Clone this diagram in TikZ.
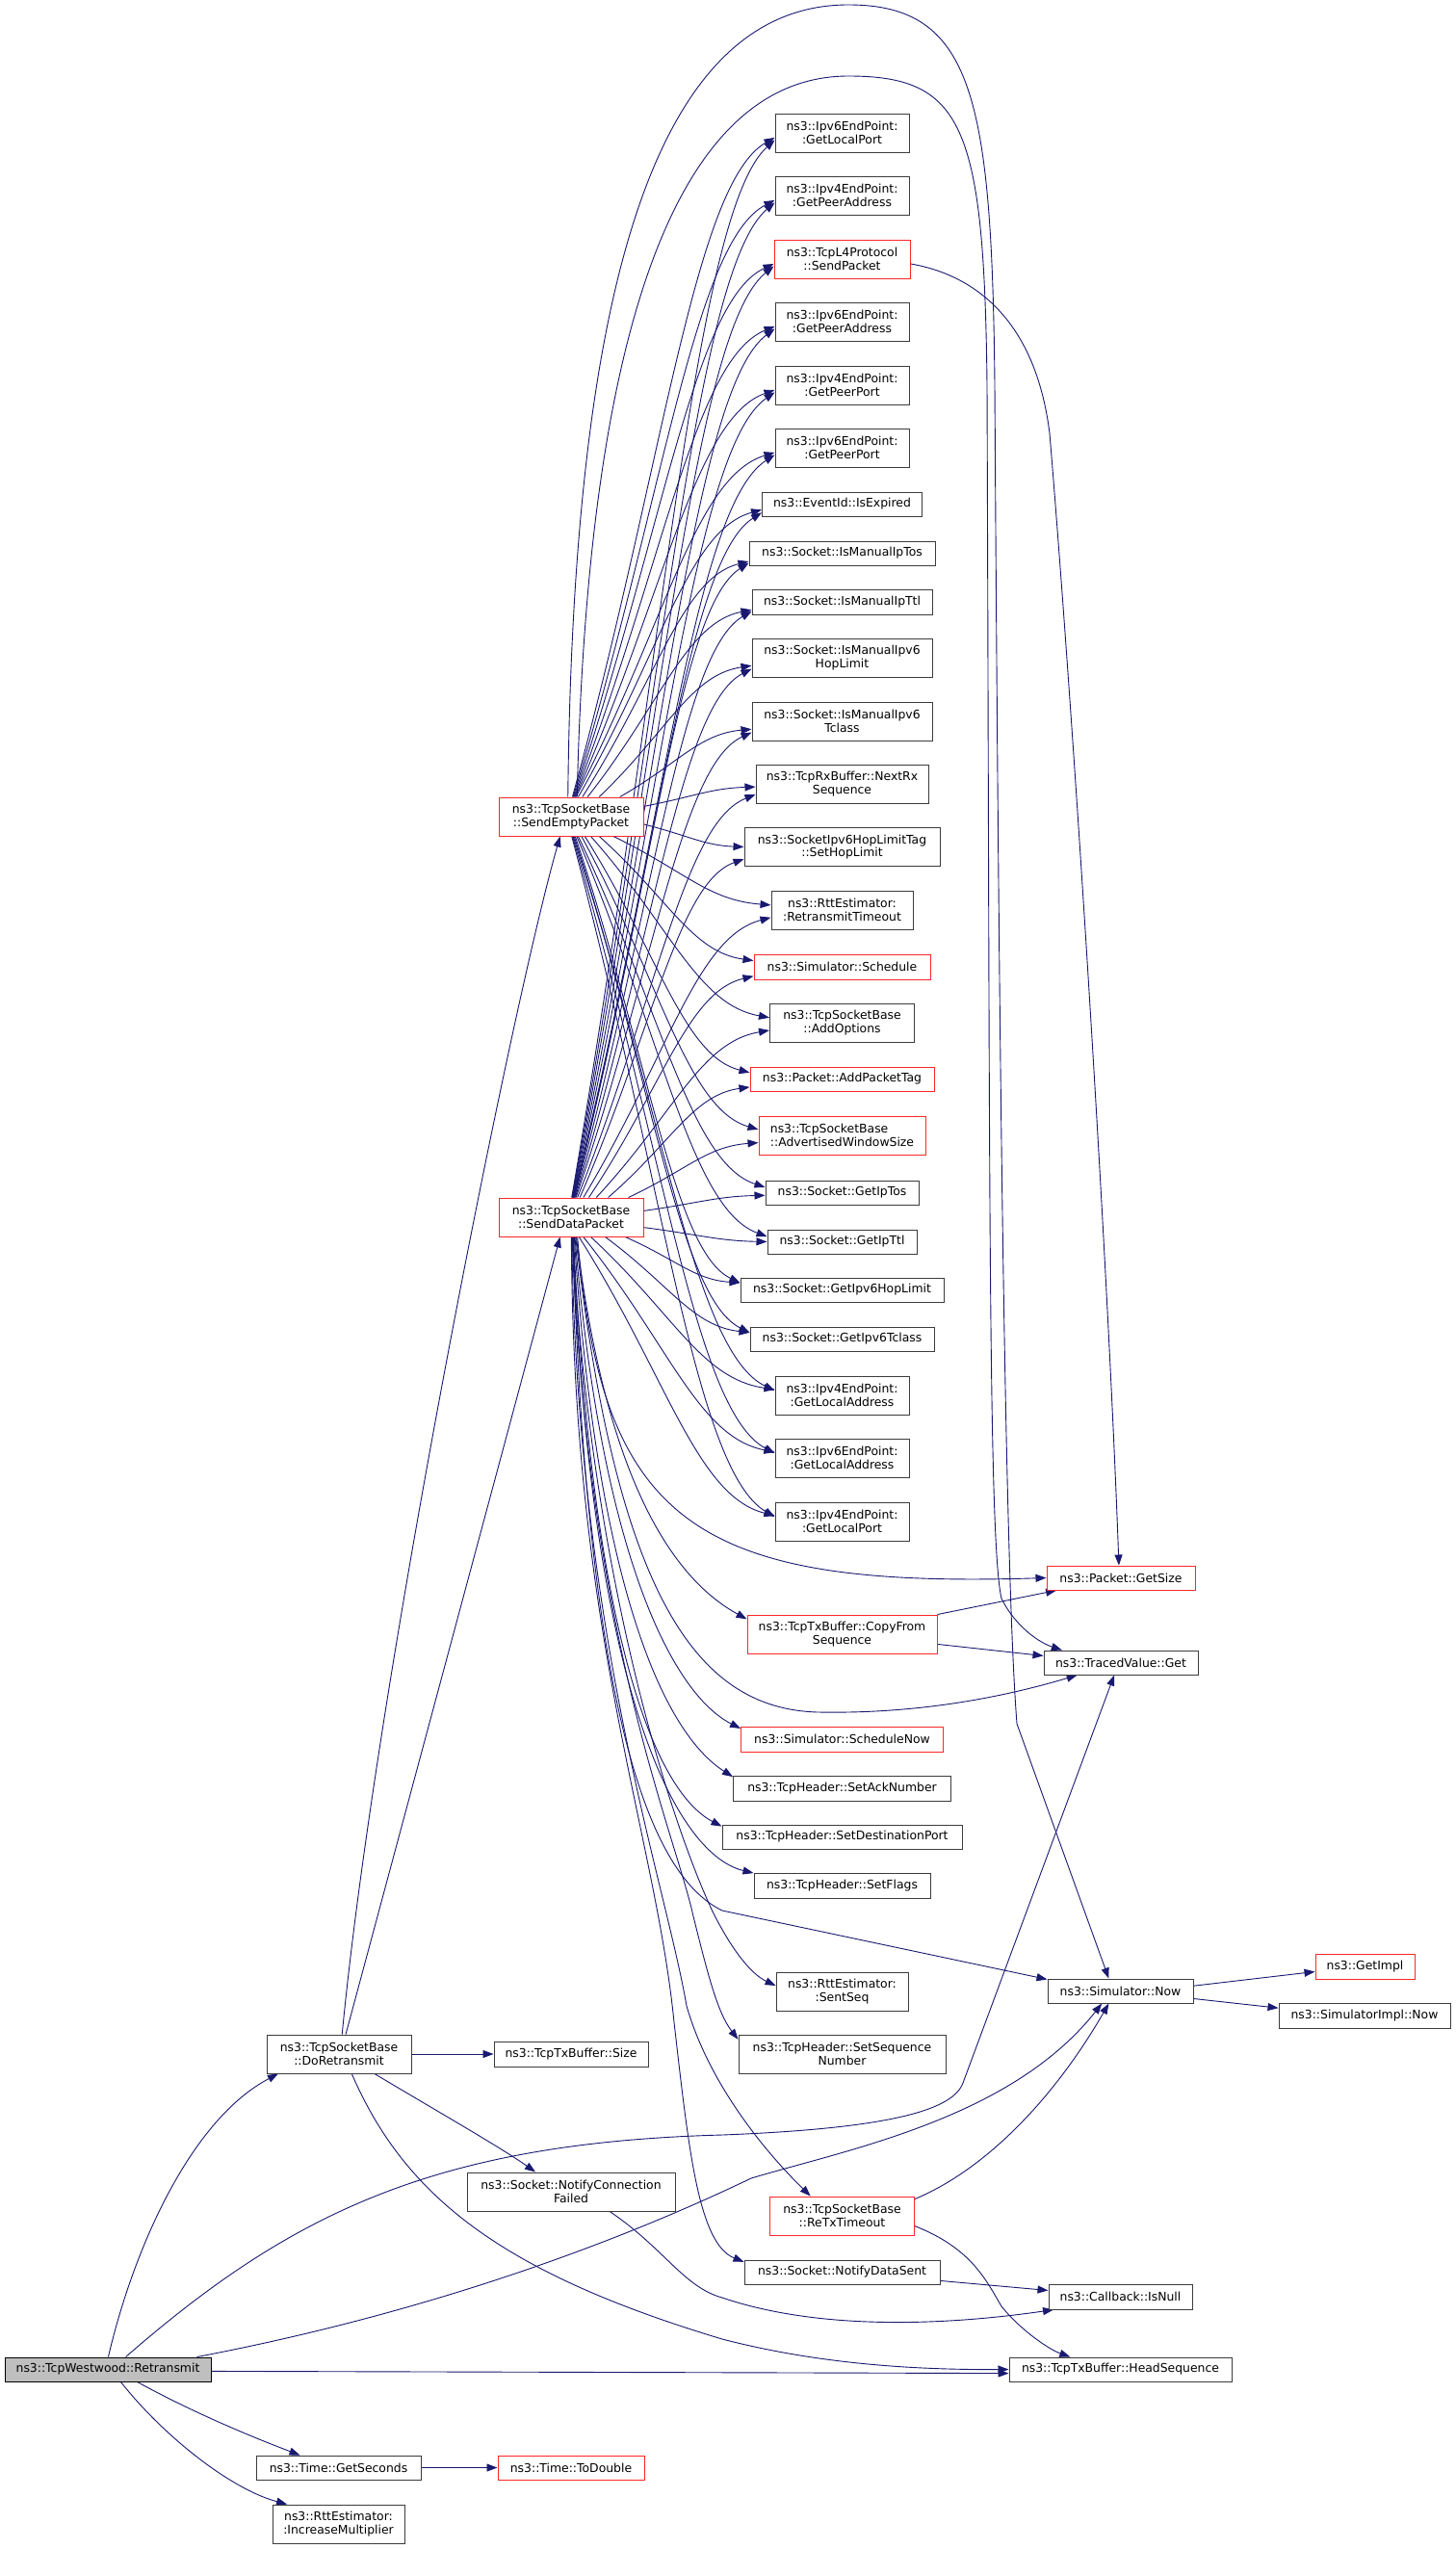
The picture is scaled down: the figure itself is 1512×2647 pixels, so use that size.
\documentclass[tikz,border=0pt]{standalone}
\usepackage{fontspec}
\setmainfont{DejaVu Sans}
\usetikzlibrary{arrows.meta,calc}
\definecolor{eblue}{RGB}{25,25,112}
\definecolor{bgray}{RGB}{60,60,60}
\definecolor{bred}{RGB}{255,40,40}
\definecolor{fgray}{RGB}{191,191,191}
\pgfdeclarelayer{bg}
\pgfsetlayers{bg,main}
\newcommand\fe[2]{\draw[cedge] let \p1=(#1), \p2=(#2) in (\p1) .. controls ({\x1+0.45*(\x2-\x1)},{\y1+0.5*(\y2-\y1)}) and ({\x2-0.4*(\x2-\x1)},{\y2-0.07*(\y2-\y1)}) .. (\p2);}
\begin{document}
\begin{tikzpicture}[x=1pt,y=-1pt,
 gbox/.style={draw=bgray, line width=1pt, fill=white, inner sep=0pt, align=center, font=\fontsize{12.4}{13.6}\selectfont},
 rbox/.style={gbox, draw=bred},
 cedge/.style={draw=eblue, line width=0.9pt, -{Triangle[length=11pt,width=8pt]}},
]
\useasboundingbox (0,0) rectangle (1512,2647);
% left
\node[gbox, fill=fgray, draw=black, minimum width=214pt, minimum height=25pt] (ret) at (112,2460.5) {ns3::TcpWestwood::Retransmit};
\node[gbox, minimum width=150pt, minimum height=40pt] (dor) at (352,2133) {ns3::TcpSocketBase\\::DoRetransmit};
\node[gbox, minimum width=171pt, minimum height=25pt] (sec) at (351.5,2562.5) {ns3::Time::GetSeconds};
\node[gbox, minimum width=137pt, minimum height=40pt] (inc) at (351.5,2621) {ns3::RttEstimator:\\:IncreaseMultiplier};
% column 2
\node[rbox, minimum width=150pt, minimum height=40pt] (sep) at (593,848) {ns3::TcpSocketBase\\::SendEmptyPacket};
\node[rbox, minimum width=150pt, minimum height=40pt] (sdp) at (593,1264) {ns3::TcpSocketBase\\::SendDataPacket};
\node[gbox, minimum width=160pt, minimum height=26pt] (txs) at (593,2133) {ns3::TcpTxBuffer::Size};
\node[gbox, minimum width=216pt, minimum height=40pt] (ncf) at (593,2276) {ns3::Socket::NotifyConnection\\Failed};
\node[rbox, minimum width=152pt, minimum height=25pt] (tod) at (593,2562.5) {ns3::Time::ToDouble};
% column 3
\node[gbox, minimum width=139pt, minimum height=40pt] (gl6p) at (874.5,138) {ns3::Ipv6EndPoint:\\:GetLocalPort};
\node[gbox, minimum width=139pt, minimum height=40pt] (gpa4) at (874.5,203) {ns3::Ipv4EndPoint:\\:GetPeerAddress};
\node[rbox, minimum width=141pt, minimum height=40pt] (spk) at (874.5,269) {ns3::TcpL4Protocol\\::SendPacket};
\node[gbox, minimum width=139pt, minimum height=40pt] (gpa6) at (874.5,334) {ns3::Ipv6EndPoint:\\:GetPeerAddress};
\node[gbox, minimum width=139pt, minimum height=40pt] (gpp4) at (874.5,400) {ns3::Ipv4EndPoint:\\:GetPeerPort};
\node[gbox, minimum width=139pt, minimum height=40pt] (gpp6) at (874.5,465) {ns3::Ipv6EndPoint:\\:GetPeerPort};
\node[gbox, minimum width=166pt, minimum height=25pt] (isexp) at (874.5,523.5) {ns3::EventId::IsExpired};
\node[gbox, minimum width=193pt, minimum height=25pt] (imtos) at (874.5,574.5) {ns3::Socket::IsManualIpTos};
\node[gbox, minimum width=187pt, minimum height=26pt] (imttl) at (874.5,625) {ns3::Socket::IsManualIpTtl};
\node[gbox, minimum width=187pt, minimum height=40pt] (imhl) at (874.5,683) {ns3::Socket::IsManualIpv6\\HopLimit};
\node[gbox, minimum width=187pt, minimum height=40pt] (imtc) at (874.5,749) {ns3::Socket::IsManualIpv6\\Tclass};
\node[gbox, minimum width=179pt, minimum height=40pt] (nrx) at (874.5,814) {ns3::TcpRxBuffer::NextRx\\Sequence};
\node[gbox, minimum width=203pt, minimum height=40pt] (shl) at (874.5,879.5) {ns3::SocketIpv6HopLimitTag\\::SetHopLimit};
\node[gbox, minimum width=147pt, minimum height=40pt] (rto) at (874.5,945) {ns3::RttEstimator:\\:RetransmitTimeout};
\node[rbox, minimum width=183pt, minimum height=26pt] (sch) at (874.5,1004) {ns3::Simulator::Schedule};
\node[gbox, minimum width=150pt, minimum height=40pt] (aopt) at (874.5,1062) {ns3::TcpSocketBase\\::AddOptions};
\node[rbox, minimum width=191pt, minimum height=25pt] (apt) at (874.5,1120.5) {ns3::Packet::AddPacketTag};
\node[rbox, minimum width=173pt, minimum height=40pt, align=left] (aws) at (874.5,1179) {ns3::TcpSocketBase\\::AdvertisedWindowSize};
\node[gbox, minimum width=159pt, minimum height=25pt] (gtos) at (874.5,1238.5) {ns3::Socket::GetIpTos};
\node[gbox, minimum width=155pt, minimum height=25pt] (gttl) at (874.5,1289.5) {ns3::Socket::GetIpTtl};
\node[gbox, minimum width=211pt, minimum height=25pt] (ghl) at (874.5,1339.5) {ns3::Socket::GetIpv6HopLimit};
\node[gbox, minimum width=191pt, minimum height=25pt] (gtc) at (874.5,1390.5) {ns3::Socket::GetIpv6Tclass};
\node[gbox, minimum width=139pt, minimum height=40pt] (gla4) at (874.5,1449) {ns3::Ipv4EndPoint:\\:GetLocalAddress};
\node[gbox, minimum width=139pt, minimum height=40pt] (gla6) at (874.5,1514) {ns3::Ipv6EndPoint:\\:GetLocalAddress};
\node[gbox, minimum width=139pt, minimum height=40pt] (glp4) at (874.5,1580) {ns3::Ipv4EndPoint:\\:GetLocalPort};
\node[rbox, minimum width=197pt, minimum height=40pt] (cfs) at (874.5,1697) {ns3::TcpTxBuffer::CopyFrom\\Sequence};
\node[rbox, minimum width=210pt, minimum height=26pt] (schn) at (874.5,1806) {ns3::Simulator::ScheduleNow};
\node[gbox, minimum width=226pt, minimum height=26pt] (sack) at (874.5,1857) {ns3::TcpHeader::SetAckNumber};
\node[gbox, minimum width=249pt, minimum height=25pt] (sdst) at (874.5,1907.5) {ns3::TcpHeader::SetDestinationPort};
\node[gbox, minimum width=183pt, minimum height=26pt] (sflg) at (874.5,1958) {ns3::TcpHeader::SetFlags};
\node[gbox, minimum width=137pt, minimum height=40pt] (sseq) at (874.5,2068) {ns3::RttEstimator:\\:SentSeq};
\node[gbox, minimum width=215pt, minimum height=40pt] (ssn) at (874.5,2133) {ns3::TcpHeader::SetSequence\\Number};
\node[rbox, minimum width=150pt, minimum height=40pt] (rtx) at (874.5,2301) {ns3::TcpSocketBase\\::ReTxTimeout};
\node[gbox, minimum width=203pt, minimum height=25pt] (nds) at (874.5,2359.5) {ns3::Socket::NotifyDataSent};
% column 4
\node[rbox, minimum width=154pt, minimum height=25pt] (gsz) at (1164,1638.5) {ns3::Packet::GetSize};
\node[gbox, minimum width=160pt, minimum height=25pt] (tvg) at (1164,1726.5) {ns3::TracedValue::Get};
\node[gbox, minimum width=151pt, minimum height=25pt] (now) at (1163.5,2067.5) {ns3::Simulator::Now};
\node[gbox, minimum width=149pt, minimum height=26pt] (isn) at (1163.5,2385) {ns3::Callback::IsNull};
\node[gbox, minimum width=231pt, minimum height=25pt] (hsq) at (1163.5,2460.5) {ns3::TcpTxBuffer::HeadSequence};
% column 5
\node[rbox, minimum width=103pt, minimum height=26pt] (gimp) at (1417.5,2042) {ns3::GetImpl};
\node[gbox, minimum width=178pt, minimum height=26pt] (sin) at (1417,2093) {ns3::SimulatorImpl::Now};

\begin{pgfonlayer}{bg}
\fill[white] (0,0) rectangle (1512,2647);
% Retransmit
\draw[cedge] (ret.88) .. controls (140,2330) and (200,2200) .. (dor.-162);
\draw[cedge] (ret.35) .. controls (300,2300) and (450,2225) .. (750,2217) .. controls (930,2210) and (990,2190) .. (1000,2163) -- (tvg.-118);
\draw[cedge] (ret.8) .. controls (480,2395) and (680,2310) .. (780,2262) .. controls (880,2232) and (1050,2200) .. (now.-146);
\draw[cedge] (ret.-1) -- (hsq.-178);
\draw[cedge] (ret.-23) .. controls (200,2505) and (260,2530) .. (sec.162);
\draw[cedge] (ret.-44) .. controls (170,2530) and (240,2585) .. (inc.159);
% DoRetransmit
\draw[cedge] (dor.81) .. controls (390,1750) and (530,1050) .. (sep.-119);
\draw[cedge] (dor.71) -- (sdp.-119);
\draw[cedge] (dor.east) -- (txs.west);
\draw[cedge] (dor.-29) .. controls (450,2190) and (520,2230) .. (ncf.151);
\draw[cedge] (dor.-57) .. controls (420,2280) and (520,2360) .. (750,2429) .. controls (850,2455) and (950,2461) .. (hsq.west);
\draw[cedge] (ncf.-27) .. controls (690,2335) and (710,2375) .. (750,2386) .. controls (850,2420) and (980,2415) .. (isn.-169);
\draw[cedge] (sec.east) -- (tod.west);
% SendEmptyPacket fan
\fe{sep.86}{gl6p.184}
\fe{sep.84}{gpa4.184}
\fe{sep.82}{spk.184}
\fe{sep.80}{gpa6.184}
\fe{sep.78}{gpp4.184}
\fe{sep.76}{gpp6.184}
\fe{sep.70}{isexp.184}
\fe{sep.60}{imtos.185}
\fe{sep.50}{imttl.185}
\fe{sep.35}{imhl.185}
\fe{sep.22}{imtc.185}
\fe{sep.8}{nrx.182}
\fe{sep.-6}{shl.180}
\fe{sep.-25}{rto.176}
\fe{sep.-35}{sch.176}
\fe{sep.-45}{aopt.176}
\fe{sep.-55}{apt.176}
\fe{sep.-62}{aws.176}
\fe{sep.-70}{gtos.176}
\fe{sep.-74}{gttl.176}
\fe{sep.-78}{ghl.176}
\fe{sep.-81}{gtc.176}
\fe{sep.-84}{gla4.176}
\fe{sep.-86}{gla6.176}
\fe{sep.-88}{glp4.176}
\draw[cedge] (sep.99) .. controls (595,300) and (680,5) .. (881,5) .. controls (1010,5) and (1030,100) .. (1033,400) .. controls (1038,1200) and (1045,1650) .. (1056,1790) -- (now.133);
\draw[cedge] (sep.73) .. controls (610,350) and (700,79) .. (881,79) .. controls (1000,79) and (1022,130) .. (1025,400) .. controls (1028,1200) and (1026,1600) .. (1040,1660) .. controls (1055,1690) and (1080,1706) .. (tvg.168);
% SendDataPacket fan
\fe{sdp.88}{gl6p.186}
\fe{sdp.87}{gpa4.186}
\fe{sdp.86}{spk.186}
\fe{sdp.85}{gpa6.186}
\fe{sdp.84}{gpp4.186}
\fe{sdp.83}{gpp6.186}
\fe{sdp.82}{isexp.186}
\fe{sdp.81}{imtos.186}
\fe{sdp.80}{imttl.186}
\fe{sdp.78}{imhl.187}
\fe{sdp.76}{imtc.187}
\fe{sdp.72}{nrx.187}
\fe{sdp.66}{shl.187}
\fe{sdp.58}{rto.186}
\fe{sdp.48}{sch.186}
\fe{sdp.38}{aopt.186}
\fe{sdp.28}{apt.185}
\fe{sdp.19}{aws.185}
\fe{sdp.5}{gtos.182}
\fe{sdp.-8}{gttl.180}
\fe{sdp.-20}{ghl.176}
\fe{sdp.-30}{gtc.176}
\fe{sdp.-45}{gla4.175}
\fe{sdp.-58}{gla6.175}
\fe{sdp.-68}{glp4.175}
\draw[cedge] (sdp.-72) .. controls (625,1580) and (720,1650) .. (gsz.west);
\draw[cedge] (sdp.-75) .. controls (630,1540) and (700,1640) .. (cfs.171);
\draw[cedge] (sdp.-77) .. controls (640,1650) and (720,1775) .. (850,1778) .. controls (960,1780) and (1050,1760) .. (tvg.-164);
\draw[cedge] (sdp.-79) .. controls (625,1620) and (700,1760) .. (schn.174);
\draw[cedge] (sdp.-81) .. controls (620,1650) and (690,1800) .. (sack.174);
\draw[cedge] (sdp.-83) .. controls (615,1700) and (680,1860) .. (sdst.175);
\draw[cedge] (sdp.-84) .. controls (612,1750) and (700,1925) .. (sflg.172);
\draw[cedge] (sdp.-85) .. controls (610,1800) and (680,1950) .. (750,1984) -- (now.171);
\draw[cedge] (sdp.-86) .. controls (615,1650) and (700,1900) .. (740,1985) .. controls (760,2025) and (780,2050) .. (sseq.175);
\draw[cedge] (sdp.-87) .. controls (610,1700) and (700,1900) .. (720,1990) .. controls (735,2050) and (745,2090) .. (ssn.172);
\draw[cedge] (sdp.-88) .. controls (600,1700) and (690,1950) .. (713,2083) .. controls (735,2160) and (790,2230) .. (rtx.148);
\draw[cedge] (sdp.-89) .. controls (595,1700) and (680,1900) .. (700,2100) .. controls (715,2230) and (725,2330) .. (nds.174);
% others
\draw[cedge] (spk.-4) .. controls (1010,285) and (1075,330) .. (1090,450) .. controls (1115,750) and (1150,1300) .. (gsz.99);
\draw[cedge] (cfs.north east) -- (gsz.-169);
\draw[cedge] (cfs.-6) -- (tvg.175);
\draw[cedge] (now.4) -- (gimp.-174);
\draw[cedge] (now.-6) -- (sin.175);
\draw[cedge] (rtx.13) .. controls (1030,2250) and (1100,2170) .. (now.-133);
\draw[cedge] (rtx.-8) .. controls (1010,2335) and (1025,2370) .. (1040,2395) .. controls (1060,2420) and (1090,2440) .. (hsq.166);
\draw[cedge] (nds.-5) -- (isn.175);
\end{pgfonlayer}
\end{tikzpicture}
\end{document}
